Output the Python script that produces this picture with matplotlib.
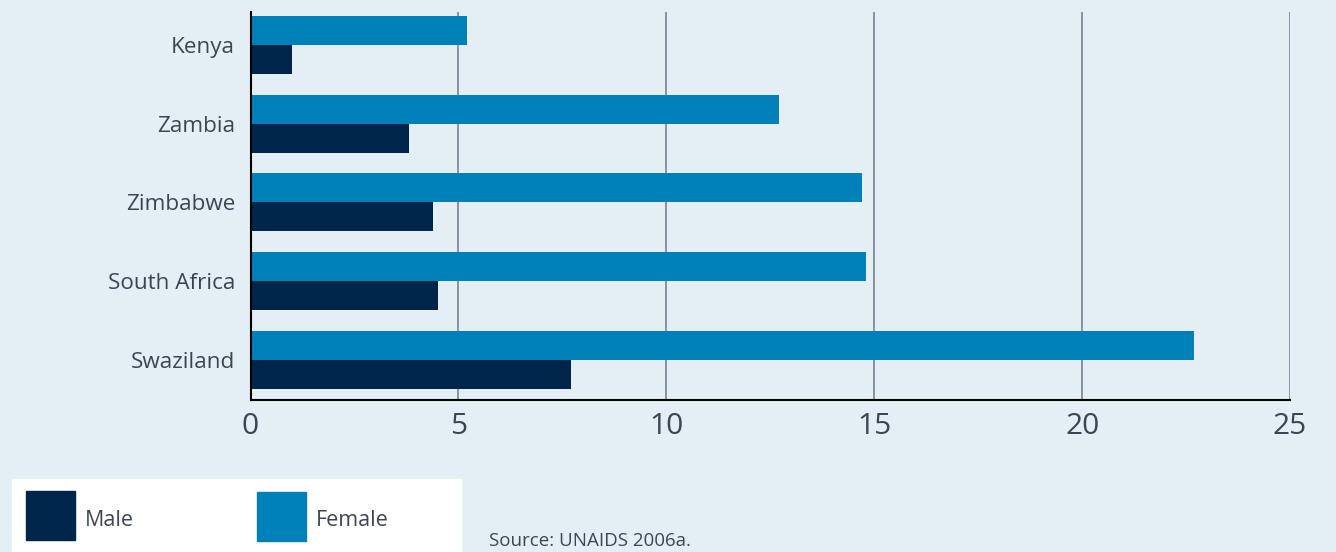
import matplotlib
matplotlib.use('Agg')
from matplotlib import pyplot as plt
from matplotlib.patches import Rectangle
import numpy as np

countries = ['Kenya', 'Zambia', 'Zimbabwe', 'South Africa', 'Swaziland']
female = [5.2, 12.7, 14.7, 14.8, 22.7]
male = [1.0, 3.8, 4.4, 4.5, 7.7]
xticks = [0, 5, 10, 15, 20, 25]

bg = '#e4eff5'
female_color = '#0080b9'
male_color = '#00254a'
text_color = '#3d4650'

plt.rcParams['font.family'] = ['Open Sans', 'DejaVu Sans']

fig = plt.figure(figsize=(13.36, 5.52), dpi=100)
fig.patch.set_facecolor(bg)
ax = fig.add_axes([0.1875, 0.2754, 0.7781, 0.7029])
ax.set_facecolor(bg)

y = np.arange(len(countries))
h = 0.368
ax.barh(y - h / 2, female, height=h, color=female_color, zorder=3)
ax.barh(y + h / 2, male, height=h, color=male_color, zorder=3)

ax.set_ylim(4.508, -0.419)
ax.set_xlim(0, 25)
ax.set_yticks(y)
ax.set_yticklabels(countries, fontsize=16.2, color=text_color)
ax.set_xticks(xticks)
ax.set_xticklabels([str(t) for t in xticks], fontsize=21.5, color=text_color)
ax.tick_params(axis='both', length=0)
ax.tick_params(axis='y', pad=11)
ax.tick_params(axis='x', pad=9)
ax.grid(axis='x', color='#7a848c', linewidth=1.2, zorder=0)
for s in ['top', 'right']:
    ax.spines[s].set_visible(False)
for s in ['left', 'bottom']:
    ax.spines[s].set_color('black')
    ax.spines[s].set_linewidth(1.5)
    ax.spines[s].set_zorder(5)

# legend box
fig.patches.append(Rectangle((12 / 1336, 0), 449 / 1336, 73 / 552,
                             transform=fig.transFigure, color='white', zorder=1))
fig.patches.append(Rectangle((26 / 1336, 12 / 552), 49 / 1336, 49 / 552,
                             transform=fig.transFigure, color=male_color, zorder=2))
fig.patches.append(Rectangle((257 / 1336, 11 / 552), 49 / 1336, 49 / 552,
                             transform=fig.transFigure, color=female_color, zorder=2))
fig.text(85 / 1336, 31 / 552, 'Male', fontsize=15.5, color=text_color, va='center')
fig.text(316 / 1336, 31 / 552, 'Female', fontsize=15.5, color=text_color, va='center')
fig.text(489 / 1336, 2 / 552, 'Source: UNAIDS 2006a.', fontsize=13.5,
         color=text_color, va='bottom')

fig.savefig('out.png', facecolor=bg)
